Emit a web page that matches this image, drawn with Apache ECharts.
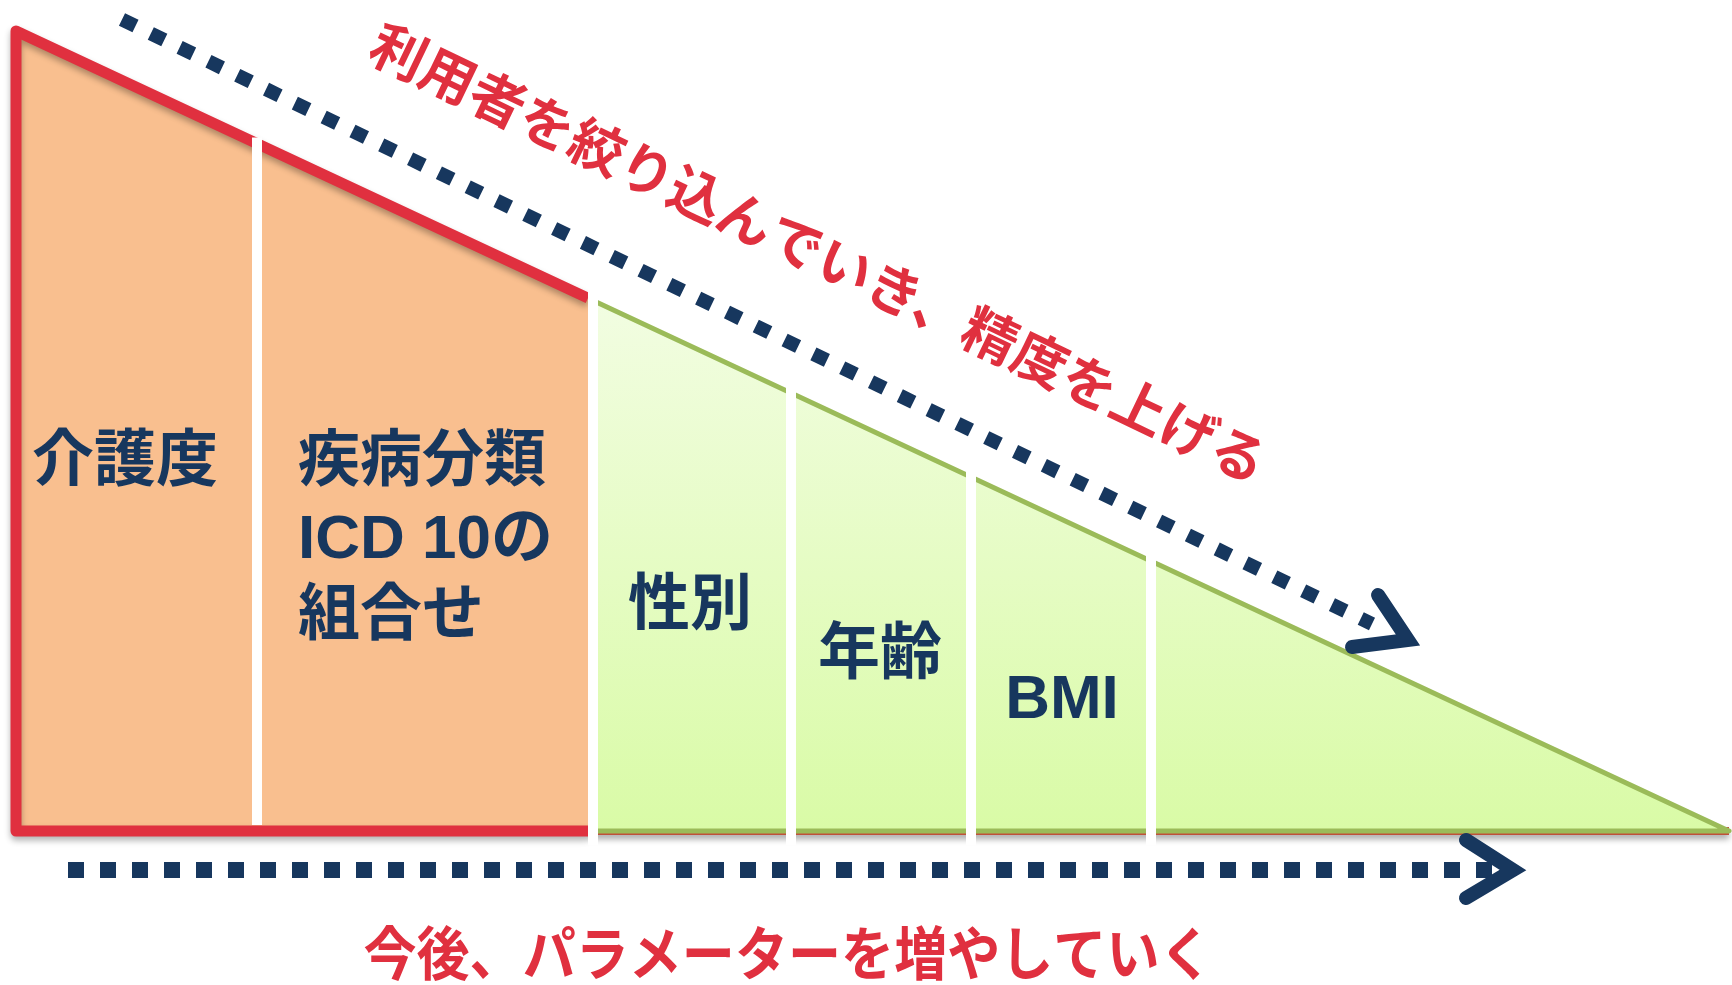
<!DOCTYPE html>
<html>
<head>
<meta charset="utf-8">
<script src="https://cdn.jsdelivr.net/npm/echarts@6/dist/echarts.min.js"></script>
<style>
html,body{margin:0;padding:0;background:#ffffff;}
#c{width:1732px;height:985px;}
</style>
</head>
<body>
<div id="c"></div>
<script>
// ---- data ----
const segmentLabels = ['介護度', '疾病分類\nICD 10の\n組合せ', '性別', '年齢', 'BMI', ''];
const segmentEdges = [0, 241, 577, 775, 955, 1135, 1713];   // boundaries along the parameter axis
const fullHeight = 800;                                     // user count at the start (relative)
const establishedCount = 2;                                 // first segments = current parameters
const topCaption = '利用者を絞り込んでいき、精度を上げる';
const bottomCaption = '今後、パラメーターを増やしていく';

// ---- layout / style (not data) ----
const RED = '#e0303f', NAVY = '#17375e', ORANGE = '#f9bf8f', GREEN_LINE = '#9bbb59';
const X_MAX = segmentEdges[segmentEdges.length - 1];
const hyp = x => fullHeight * (1 - x / X_MAX);
// label anchors in axis units: [x, y, align]
const labelAnchors = [[109, 367, 'center'], [282, 290, 'left'], [674, 223, 'center'], [864, 174, 'center'], [1046, 130, 'center']];
// arrows in axis units
const diagArrow = {from: [106, 811.5], to: [1356, 207], tip: [1392, 191], armA: [1362, 236], armB: [1336, 184]};
const baseArrow = {from: [52, -39], to: [1476, -39], tip: [1497, -39], armA: [1450, -9], armB: [1450, -67]};

const chart = echarts.init(document.getElementById('c'), null, {renderer: 'canvas'});

const option = {
  animation: false,
  grid: {left: 16, top: 31, width: X_MAX, height: fullHeight, show: false},
  xAxis: {type: 'value', min: 0, max: X_MAX, show: false},
  yAxis: {type: 'value', min: 0, max: fullHeight, show: false},
  series: [
    {
      // established parameters (orange) + red outline, and new parameters (green)
      type: 'custom', coordinateSystem: 'cartesian2d', z: 1,
      data: [[0, 0]],
      renderItem(params, api) {
        const p = (x, y) => api.coord([x, y]);
        const e = segmentEdges[establishedCount];
        return {
          type: 'group',
          children: [
            {type: 'polygon', shape: {points: [p(0, 0), p(0, fullHeight), p(e, hyp(e)), p(e, 0)]}, style: {fill: ORANGE}},
            {type: 'polyline', shape: {points: [p(X_MAX, 0), p(e - 5, 0)]},
              style: {stroke: '#c0503a', lineWidth: 8, fill: null, shadowBlur: 6, shadowOffsetY: 4, shadowColor: 'rgba(0,0,0,0.35)'}},
            {type: 'polyline', shape: {points: [p(e - 5, 0), p(0, 0), p(0, fullHeight), p(e - 5, hyp(e - 5))]},
              style: {stroke: RED, lineWidth: 11, fill: null, lineJoin: 'round', shadowBlur: 6, shadowOffsetY: 4, shadowColor: 'rgba(0,0,0,0.3)'}},
            {type: 'polygon', shape: {points: [p(e, hyp(e)), p(X_MAX, 0), p(e, 0)]},
              style: {
                fill: new echarts.graphic.LinearGradient(0, 0, 0, 1, [{offset: 0, color: '#f2fde2'}, {offset: 1, color: '#d9fba6'}]),
                stroke: GREEN_LINE, lineWidth: 5, lineJoin: 'round'
              }}
          ]
        };
      }
    },
    {
      // white separators between parameters
      type: 'custom', coordinateSystem: 'cartesian2d', z: 3,
      data: segmentEdges.slice(1, -1).map(v => [v, 0]),
      renderItem(params, api) {
        const x = api.value(0);
        const top = api.coord([x, hyp(x)]);
        const bot = api.coord([x, 0]);
        const first = params.dataIndex === 0;
        return {
          type: 'line',
          shape: {x1: top[0], y1: top[1] - (first ? 6 : 11), x2: bot[0], y2: bot[1] + (first ? -6 : 14)},
          style: {stroke: '#ffffff', lineWidth: 10}
        };
      }
    },
    {
      // parameter labels
      type: 'custom', coordinateSystem: 'cartesian2d', z: 4,
      data: segmentLabels.slice(0, labelAnchors.length).map((t, i) => [labelAnchors[i][0], labelAnchors[i][1]]),
      renderItem(params, api) {
        const pt = api.coord([api.value(0), api.value(1)]);
        return {
          type: 'text', x: pt[0], y: pt[1],
          style: {
            text: segmentLabels[params.dataIndex], fill: NAVY,
            fontSize: 62, fontWeight: 'bold', fontFamily: '"Liberation Sans","Noto Sans CJK JP",sans-serif',
            align: labelAnchors[params.dataIndex][2], verticalAlign: 'middle', lineHeight: 77
          }
        };
      }
    },
    {
      // dotted arrows
      type: 'custom', coordinateSystem: 'cartesian2d', z: 5,
      data: [[0, 0]],
      renderItem(params, api) {
        const p = a => api.coord(a);
        const arrow = (ar, w, dash) => [
          {type: 'line', shape: {x1: p(ar.from)[0], y1: p(ar.from)[1], x2: p(ar.to)[0], y2: p(ar.to)[1]},
            style: {stroke: NAVY, lineWidth: w, lineDash: dash, lineCap: 'butt'}},
          {type: 'polyline', shape: {points: [p(ar.armA), p(ar.tip), p(ar.armB)]},
            style: {stroke: NAVY, lineWidth: 14, fill: null, lineCap: 'round', lineJoin: 'miter', miterLimit: 10}}
        ];
        return {type: 'group', children: arrow(diagArrow, 14, [15, 17]).concat(arrow(baseArrow, 16, [16, 16]))};
      }
    }
  ],
  graphic: [
    {type: 'text', x: 819, y: 253, rotation: -25.6 * Math.PI / 180, z: 10,
      style: {text: topCaption, fill: RED, fontSize: 55, fontWeight: 'bold', fontFamily: '"Noto Sans CJK JP",sans-serif', align: 'center', verticalAlign: 'middle'}},
    {type: 'text', x: 788, y: 953, scaleX: 0.915, z: 10,
      style: {text: bottomCaption, fill: RED, fontSize: 58, fontWeight: 'bold', fontFamily: '"Noto Sans CJK JP",sans-serif', align: 'center', verticalAlign: 'middle'}}
  ]
};
chart.setOption(option);
</script>
</body>
</html>
